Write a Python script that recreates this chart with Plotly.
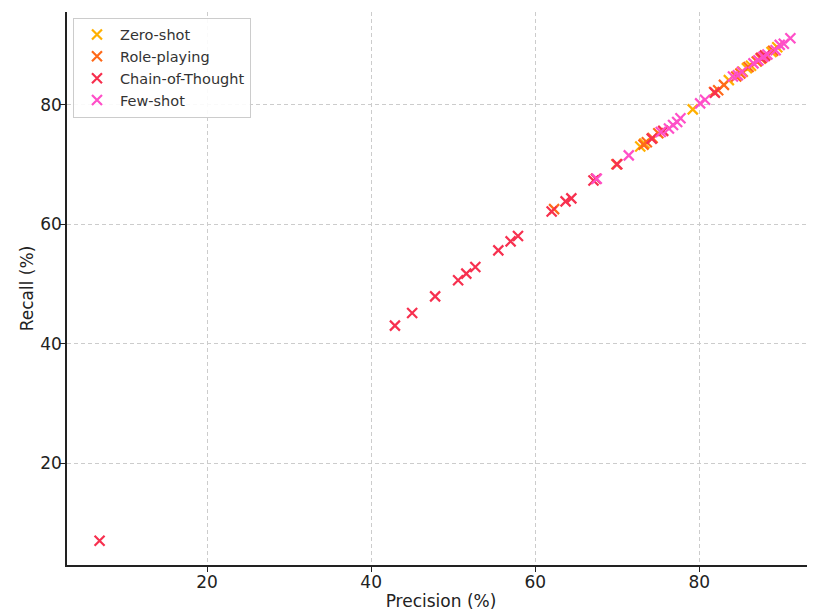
import plotly.graph_objects as go

series_names = ["Zero-shot", "Role-playing", "Chain-of-Thought", "Few-shot"]
series_colors = ["#FFB000", "#FF6A1A", "#F7304F", "#FF4FC8"]

zs_precision = [72.8, 73.3, 79.2, 83.6, 85.3, 85.8, 86.3, 87.5, 88.8, 89.5]
zs_recall = [73.0, 73.5, 79.2, 84.1, 85.5, 86.1, 86.5, 87.7, 88.8, 89.6]

rp_precision = [62.3, 69.9, 73.2, 73.6, 74.3, 75.0, 81.8, 82.3, 83.0, 84.5, 85.0, 86.0, 87.0, 87.6, 88.0, 89.0]
rp_recall = [62.5, 70.0, 73.3, 73.7, 74.4, 75.2, 82.1, 82.4, 83.3, 84.7, 85.2, 86.3, 87.2, 87.8, 88.2, 89.0]

cot_precision = [6.9, 42.9, 45.0, 47.8, 50.6, 51.6, 52.7, 55.5, 57.0, 57.9, 62.0, 63.7, 64.4, 67.1, 67.4, 70.0, 74.2, 75.6, 81.9, 87.5, 88.0]
cot_recall = [7.0, 43.0, 45.1, 47.9, 50.6, 51.7, 52.8, 55.6, 57.1, 58.0, 62.1, 63.8, 64.3, 67.3, 67.6, 70.0, 74.3, 75.6, 82.0, 87.8, 88.2]

fs_precision = [67.5, 71.4, 75.3, 76.3, 76.8, 77.3, 77.7, 80.1, 80.7, 84.1, 84.7, 85.2, 86.6, 87.2, 87.8, 88.3, 89.3, 89.8, 90.3, 91.1]
fs_recall = [67.6, 71.5, 75.4, 76.0, 76.6, 77.1, 77.7, 80.2, 80.8, 84.7, 84.9, 85.5, 86.9, 87.4, 88.0, 88.4, 89.1, 90.0, 90.2, 91.1]

x_ticks = [20, 40, 60, 80]
y_ticks = [20, 40, 60, 80]

data = [
    (zs_precision, zs_recall),
    (rp_precision, rp_recall),
    (cot_precision, cot_recall),
    (fs_precision, fs_recall),
]

fig = go.Figure()
for name, color, (px, ry) in zip(series_names, series_colors, data):
    fig.add_trace(go.Scatter(
        x=px, y=ry, mode="markers", name=name,
        marker=dict(symbol="x-thin", size=10, color=color,
                    line=dict(width=2.2, color=color)),
    ))

font_family = "DejaVu Sans, Arial, sans-serif"
axis_common = dict(
    showgrid=True, gridcolor="#cccccc", griddash="4px,3px", gridwidth=1,
    zeroline=False, showline=True, linecolor="#222222", linewidth=1.5,
    ticks="outside", ticklen=5, tickwidth=1.3, tickcolor="#222222",
    tickfont=dict(size=17, color="#222222", family=font_family),
    mirror=False, automargin=False,
)

# the page body has an 8px default margin, so the figure is sized/offset for it
fig.update_layout(
    width=807, height=604,
    margin=dict(l=59, r=0, t=4, b=47),
    paper_bgcolor="white", plot_bgcolor="white",
    font=dict(family=font_family, color="#222222"),
    xaxis=dict(range=[2.93, 94.1], tickvals=x_ticks, ticklabelstandoff=-4,
               title=dict(text="Precision (%)", font=dict(size=17), standoff=4),
               **axis_common),
    yaxis=dict(range=[2.93, 95.5], tickvals=y_ticks, ticklabelstandoff=-5,
               title=dict(text="Recall (%)", font=dict(size=17), standoff=2),
               **axis_common),
    legend=dict(x=0.008, y=0.99, xanchor="left", yanchor="top",
                bgcolor="rgba(255,255,255,0.9)", bordercolor="#cccccc", borderwidth=1,
                font=dict(size=14.5, color="#333333", family=font_family),
                itemwidth=36, tracegroupgap=0),
    showlegend=True,
)

fig.write_html("out.html")
